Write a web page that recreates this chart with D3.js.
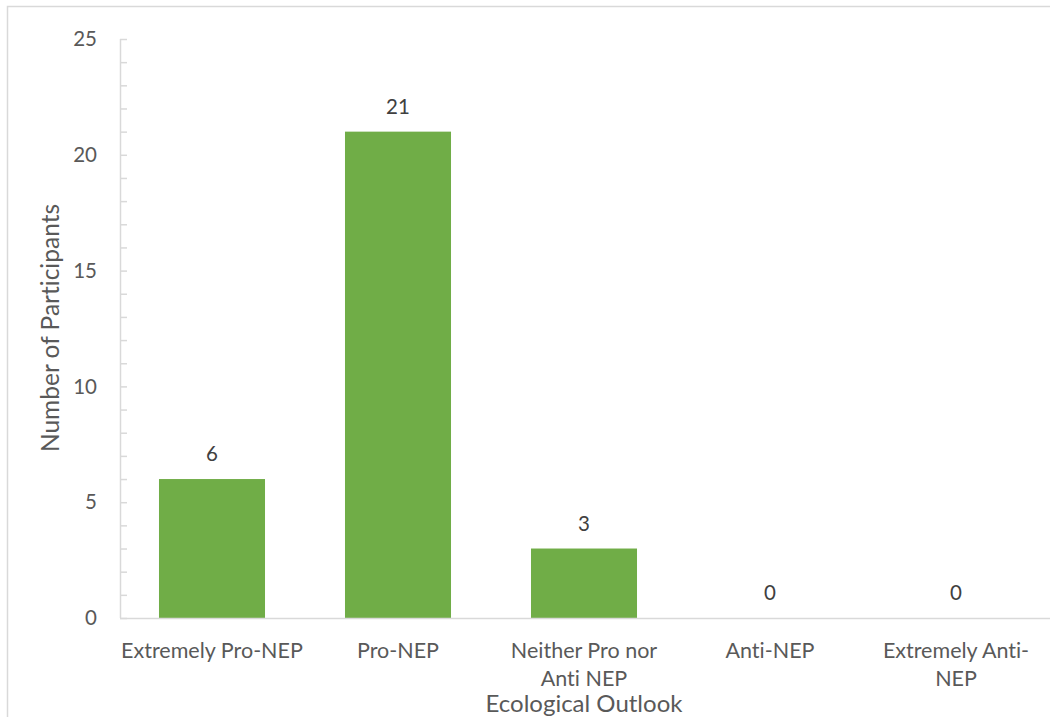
<!DOCTYPE html>
<html>
<head>
<meta charset="utf-8">
<script src="https://cdn.jsdelivr.net/npm/d3@7"></script>
<style>
  html, body { margin: 0; padding: 0; background: #fff; }
  svg { display: block; font-family: Lato, "Open Sans", sans-serif; font-variant-ligatures: none; }
</style>
</head>
<body>
<svg id="chart" width="1050" height="717"></svg>
<script>
const categories = ["Extremely Pro-NEP", "Pro-NEP", "Neither Pro nor Anti NEP", "Anti-NEP", "Extremely Anti-NEP"];
const categoryLines = [["Extremely Pro-NEP"], ["Pro-NEP"], ["Neither Pro nor", "Anti NEP"], ["Anti-NEP"], ["Extremely Anti-", "NEP"]];
const participants = [6, 21, 3, 0, 0];
const yTicks = [0, 5, 10, 15, 20, 25];
const yMinorTicks = d3.range(0, 26, 1);
const xTitle = "Ecological Outlook";
const yTitle = "Number of Participants";

const svg = d3.select("#chart");
const W = 1050, H = 717;

// chart frame (cropped at right and bottom)
svg.append("rect")
  .attr("x", 7.5).attr("y", 6.5)
  .attr("width", W + 20).attr("height", H + 20)
  .attr("fill", "#fff").attr("stroke", "#d9d9d9").attr("stroke-width", 1.5);

const pLeft = 120, pRight = 1050, pTop = 39, pBottom = 618;

const x = d3.scaleBand().domain(categories).range([pLeft - 1, pRight - 1]).paddingInner(0.43).paddingOuter(0.215);
const y = d3.scaleLinear().domain([0, 25]).range([pBottom, pTop]);

// y axis line + inward ticks
const yAxis = d3.axisRight(y).tickValues(yMinorTicks).tickSize(7).tickFormat("");
const gy = svg.append("g").attr("transform", `translate(${pLeft},0)`).call(yAxis);
gy.select(".domain").attr("stroke", "#d9d9d9").attr("stroke-width", 1.5).attr("d", `M0.5,${pTop}V${pBottom}`);
gy.selectAll(".tick line").attr("stroke", "#d9d9d9").attr("stroke-width", 1.5);

// y tick labels
svg.append("g").selectAll("text").data(yTicks).join("text")
  .attr("x", 97).attr("y", d => y(d))
  .attr("dy", "0.35em")
  .attr("text-anchor", "end")
  .attr("fill", "#595959")
  .attr("font-size", 20.5)
  .text(d => d);

// bars
svg.append("g").selectAll("rect").data(categories).join("rect")
  .attr("x", d => x(d))
  .attr("width", x.bandwidth())
  .attr("y", (d, i) => y(participants[i]))
  .attr("height", (d, i) => y(0) - y(participants[i]))
  .attr("fill", "#70ad47");

// x axis baseline
const xAxis = d3.axisBottom(x).tickSize(0).tickFormat("");
const gx = svg.append("g").attr("transform", `translate(0,${pBottom})`).call(xAxis);
gx.select(".domain").attr("stroke", "#d9d9d9").attr("stroke-width", 1.5).attr("d", `M${pLeft},0.5H${pRight}`);

// data labels
svg.append("g").selectAll("text").data(categories).join("text")
  .attr("x", d => x(d) + x.bandwidth() / 2)
  .attr("y", (d, i) => y(participants[i]) - 25)
  .attr("dy", "0.35em")
  .attr("text-anchor", "middle")
  .attr("fill", "#404040")
  .attr("font-size", 20.5)
  .text((d, i) => participants[i]);

// category labels
const cl = svg.append("g").selectAll("text").data(categories).join("text")
  .attr("x", d => x(d) + x.bandwidth() / 2)
  .attr("y", 650)
  .attr("text-anchor", "middle")
  .attr("fill", "#595959")
  .attr("font-size", 21.5);
cl.each(function(d, i) {
  const t = d3.select(this);
  categoryLines[i].forEach((line, j) => {
    t.append("tspan").attr("x", x(d) + x.bandwidth() / 2).attr("dy", j === 0 ? "0.35em" : 28).text(line);
  });
});

// axis titles
svg.append("text")
  .attr("x", 584).attr("y", 704)
  .attr("dy", "0.35em")
  .attr("text-anchor", "middle")
  .attr("fill", "#595959")
  .attr("font-size", 24)
  .text(xTitle);

svg.append("text")
  .attr("transform", `translate(50,328) rotate(-90)`)
  .attr("dy", "0.35em")
  .attr("text-anchor", "middle")
  .attr("fill", "#595959")
  .attr("font-size", 24.5)
  .text(yTitle);
</script>
</body>
</html>
